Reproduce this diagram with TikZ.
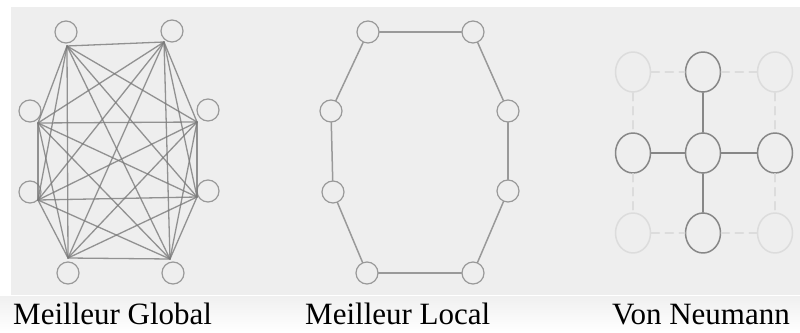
\documentclass[tikz,border=0pt]{standalone}
\usepackage{fontspec}
\setmainfont{Liberation Serif}
\usetikzlibrary{shapes.geometric}
\definecolor{fond}{HTML}{EEEEEE}
\definecolor{trait}{HTML}{7A7A7A}
\definecolor{rond}{HTML}{999999}
\definecolor{pale}{HTML}{DCDCDC}
\tikzset{
  noeud/.style={circle,draw=rond,line width=1.2pt,minimum size=22pt,inner sep=0pt},
  voisin/.style={ellipse,draw=trait!90,line width=1.5pt,minimum width=35pt,minimum height=40pt,inner sep=0pt},
  loin/.style={ellipse,draw=pale,line width=1.5pt,minimum width=35pt,minimum height=40pt,inner sep=0pt},
  lien/.style={draw=trait,line width=1.3pt,opacity=0.8},
  anneau/.style={draw=rond,line width=1.5pt},
  pointille/.style={draw=pale,line width=1.5pt,dash pattern=on 8pt off 6pt},
  legende/.style={anchor=base west,inner sep=0pt,font=\fontsize{31}{31}\selectfont}
}
\begin{document}
\begin{tikzpicture}[x=1pt,y=-1pt,line cap=round,line join=round]
\useasboundingbox (0,0) rectangle (800,332);
\fill[fond] (11,7) rectangle (800,295);
\shade[top color=fond!90,bottom color=white] (0,296) rectangle (800,332);
% meilleur global
\node[noeud] (g1) at (66,32) {};
\node[noeud] (g2) at (172,31) {};
\node[noeud] (g3) at (30,111) {};
\node[noeud] (g4) at (208,110) {};
\node[noeud] (g5) at (30,192) {};
\node[noeud] (g6) at (208,191) {};
\node[noeud] (g7) at (68,273) {};
\node[noeud] (g8) at (173,273) {};
\coordinate (h1) at (67,46);
\coordinate (h2) at (164,42);
\coordinate (h3) at (38,123);
\coordinate (h4) at (197,122);
\coordinate (h5) at (38,200);
\coordinate (h6) at (197,197);
\coordinate (h7) at (68,258);
\coordinate (h8) at (170,259);
\draw[lien] (h1) -- (h2);
\draw[lien] (h1) -- (h3);
\draw[lien] (h1) -- (h4);
\draw[lien] (h1) -- (h5);
\draw[lien] (h1) -- (h6);
\draw[lien] (h1) -- (h7);
\draw[lien] (h1) -- (h8);
\draw[lien] (h2) -- (h3);
\draw[lien] (h2) -- (h4);
\draw[lien] (h2) -- (h5);
\draw[lien] (h2) -- (h6);
\draw[lien] (h2) -- (h7);
\draw[lien] (h2) -- (h8);
\draw[lien] (h3) -- (h4);
\draw[lien] (h3) -- (h5);
\draw[lien] (h3) -- (h6);
\draw[lien] (h3) -- (h7);
\draw[lien] (h3) -- (h8);
\draw[lien] (h4) -- (h5);
\draw[lien] (h4) -- (h6);
\draw[lien] (h4) -- (h7);
\draw[lien] (h4) -- (h8);
\draw[lien] (h5) -- (h6);
\draw[lien] (h5) -- (h7);
\draw[lien] (h5) -- (h8);
\draw[lien] (h6) -- (h7);
\draw[lien] (h6) -- (h8);
\draw[lien] (h7) -- (h8);
% meilleur local
\node[noeud] (l1) at (368,32) {};
\node[noeud] (l2) at (473,32) {};
\node[noeud] (l3) at (331,111) {};
\node[noeud] (l4) at (508,111) {};
\node[noeud] (l5) at (333,192) {};
\node[noeud] (l6) at (508,191) {};
\node[noeud] (l7) at (367,273) {};
\node[noeud] (l8) at (473,273) {};
\draw[anneau] (l1) -- (l2);
\draw[anneau] (l2) -- (l4);
\draw[anneau] (l4) -- (l6);
\draw[anneau] (l6) -- (l8);
\draw[anneau] (l8) -- (l7);
\draw[anneau] (l7) -- (l5);
\draw[anneau] (l5) -- (l3);
\draw[anneau] (l3) -- (l1);
% von neumann
\node[loin] (v11) at (633,72) {};
\node[voisin] (v12) at (703,72) {};
\node[loin] (v13) at (775,72) {};
\node[voisin] (v21) at (633,153) {};
\node[voisin] (v22) at (703,153) {};
\node[voisin] (v23) at (775,153) {};
\node[loin] (v31) at (633,233) {};
\node[voisin] (v32) at (703,233) {};
\node[loin] (v33) at (775,233) {};
\draw[pointille] (v11) -- (v12);
\draw[pointille] (v12) -- (v13);
\draw[pointille] (v11) -- (v21);
\draw[pointille] (v21) -- (v31);
\draw[pointille] (v31) -- (v32);
\draw[pointille] (v32) -- (v33);
\draw[pointille] (v13) -- (v23);
\draw[pointille] (v23) -- (v33);
\draw[anneau,draw=trait!90] (v12) -- (v22);
\draw[anneau,draw=trait!90] (v21) -- (v22);
\draw[anneau,draw=trait!90] (v22) -- (v23);
\draw[anneau,draw=trait!90] (v22) -- (v32);
% legendes
\node[legende] (t1) at (13,324) {Meilleur Global};
\node[legende] (t2) at (305,324) {Meilleur Local};
\node[legende] (t3) at (612,324) {Von Neumann};
\end{tikzpicture}
\end{document}
